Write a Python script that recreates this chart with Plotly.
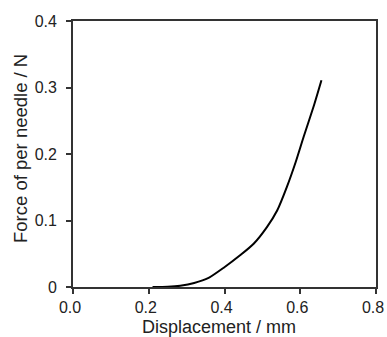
import plotly.graph_objects as go

displacement = [0.21, 0.25, 0.283, 0.32, 0.358, 0.398, 0.442, 0.477, 0.512, 0.539, 0.565, 0.588, 0.609, 0.635, 0.656]
force = [0.0, 0.0005, 0.002, 0.006, 0.0136, 0.029, 0.048, 0.065, 0.090, 0.115, 0.151, 0.188, 0.226, 0.271, 0.311]

x_ticks = [0.0, 0.2, 0.4, 0.6, 0.8]
x_ticktext = ["0.0", "0.2", "0.4", "0.6", "0.8"]
y_ticks = [0, 0.1, 0.2, 0.3, 0.4]
y_ticktext = ["0", "0.1", "0.2", "0.3", "0.4"]
x_title = "Displacement / mm"
y_title = "Force of per needle / N"

fig = go.Figure()
fig.add_trace(go.Scatter(x=displacement, y=force, mode="lines",
                         line=dict(color="black", width=2, shape="spline", smoothing=0.6),
                         showlegend=False, hoverinfo="skip"))

family = "Liberation Sans, Arial, sans-serif"
fig.update_layout(
    width=387, height=337,
    margin=dict(l=73, r=11, t=21, b=50, autoexpand=False),
    paper_bgcolor="white", plot_bgcolor="white",
    font=dict(family=family, size=16, color="#222"),
)
fig.update_xaxes(range=[0, 0.8], tickvals=x_ticks, ticktext=x_ticktext,
                 showgrid=False, zeroline=False, showline=True, mirror=True,
                 linecolor="#333", linewidth=1.8, ticks="outside", ticklen=5,
                 tickcolor="#333", tickwidth=1.5, automargin=False,
                 ticklabelshift=-3)
fig.update_yaxes(range=[0, 0.4], tickvals=y_ticks, ticktext=y_ticktext,
                 showgrid=False, zeroline=False, showline=True, mirror=True,
                 linecolor="#333", linewidth=1.8, ticks="outside", ticklen=5,
                 tickcolor="#333", tickwidth=1.5, automargin=False,
                 ticklabelstandoff=6)

fig.add_annotation(text=x_title, xref="paper", yref="paper", x=0.5, y=0,
                   xanchor="center", yanchor="top", xshift=-6, yshift=-28,
                   showarrow=False, font=dict(family=family, size=18, color="#222"))
fig.add_annotation(text=y_title, xref="paper", yref="paper", x=0, y=0.5,
                   xanchor="center", yanchor="middle", xshift=-53, yshift=5,
                   textangle=-90, showarrow=False,
                   font=dict(family=family, size=18.5, color="#222"))

fig.write_html("out.html",
               config={"displayModeBar": False},
               post_script="document.body.style.margin='0';"
                           "document.body.style.overflow='hidden';")
